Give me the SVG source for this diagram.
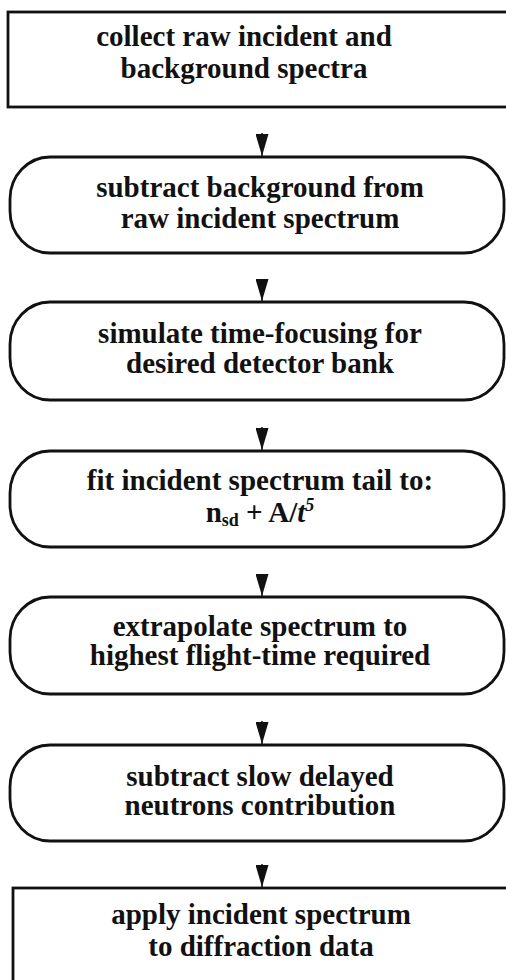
<svg xmlns="http://www.w3.org/2000/svg" width="506" height="980" viewBox="0 0 506 980">
<style>
.box{fill:#fff;stroke:#111;stroke-width:2.8}
.t{font-family:"Liberation Serif","Times New Roman",serif;font-weight:bold;font-size:29px;fill:#111;text-anchor:middle}
.c{stroke:#111;stroke-width:1.5;fill:none}
</style>
<defs>
<marker id="ah" viewBox="0 0 22 13" refX="22" refY="6.5" markerWidth="22" markerHeight="13" markerUnits="userSpaceOnUse" orient="auto">
<path d="M0,0 L22,6.5 L0,13 z" fill="#111"/>
</marker>
</defs>
<rect width="506" height="980" fill="#fff"/>
<g id="connectors">
<line class="c" x1="262" y1="133" x2="262" y2="156" marker-end="url(#ah)"/>
<line class="c" x1="262" y1="279" x2="262" y2="301" marker-end="url(#ah)"/>
<line class="c" x1="262" y1="427" x2="262" y2="450" marker-end="url(#ah)"/>
<line class="c" x1="262" y1="574" x2="262" y2="596" marker-end="url(#ah)"/>
<line class="c" x1="262" y1="721" x2="262" y2="744" marker-end="url(#ah)"/>
<line class="c" x1="262" y1="864" x2="262" y2="887" marker-end="url(#ah)"/>
</g>
<g id="n1">
<rect class="box" x="8" y="12" width="510" height="95"/>
<text class="t" x="244" y="46">collect raw incident and</text>
<text class="t" x="244" y="78">background spectra</text>
</g>
<g id="n2">
<rect class="box" x="10" y="157" width="494" height="96" rx="40" ry="42"/>
<text class="t" x="260" y="197">subtract background from</text>
<text class="t" x="260" y="228">raw incident spectrum</text>
</g>
<g id="n3">
<rect class="box" x="10" y="302" width="494" height="98" rx="40" ry="42"/>
<text class="t" x="260" y="343">simulate time-focusing for</text>
<text class="t" x="260" y="373">desired detector bank</text>
</g>
<g id="n4">
<rect class="box" x="10" y="451" width="494" height="96" rx="40" ry="42"/>
<text class="t" x="260" y="490">fit incident spectrum tail to:</text>
<text class="t" x="260" y="522">n<tspan font-size="18" dy="4">sd</tspan><tspan dy="-4"> + A/</tspan><tspan font-style="italic">t</tspan><tspan font-style="italic" font-size="18" dy="-11">5</tspan></text>
</g>
<g id="n5">
<rect class="box" x="10" y="597" width="494" height="97" rx="40" ry="42"/>
<text class="t" x="260" y="636">extrapolate spectrum to</text>
<text class="t" x="260" y="665">highest flight-time required</text>
</g>
<g id="n6">
<rect class="box" x="10" y="745" width="494" height="96" rx="40" ry="42"/>
<text class="t" x="260" y="786">subtract slow delayed</text>
<text class="t" x="260" y="815">neutrons contribution</text>
</g>
<g id="n7">
<rect class="box" x="13" y="888" width="510" height="110"/>
<text class="t" x="261" y="924">apply incident spectrum</text>
<text class="t" x="261" y="956">to diffraction data</text>
</g>
</svg>
